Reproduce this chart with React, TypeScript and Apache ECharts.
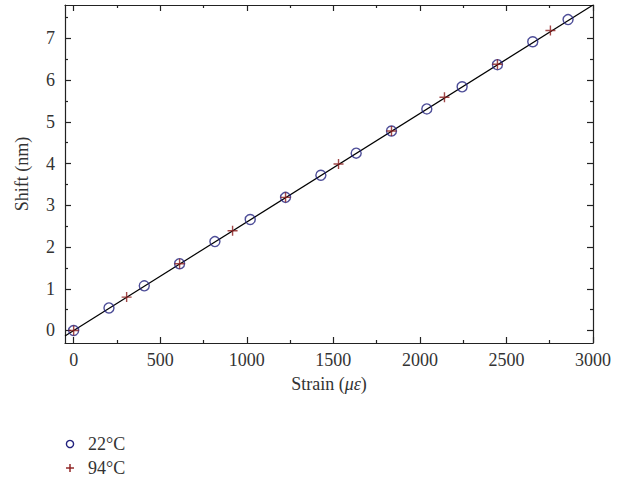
import React, { useEffect, useRef } from "react";
import * as echarts from "echarts";

const strain22 = [0, 204, 408, 612, 816, 1020, 1224, 1428, 1632, 1836, 2040, 2244, 2448, 2652, 2856];
const shift22 = [0.0, 0.54, 1.07, 1.6, 2.13, 2.66, 3.19, 3.72, 4.25, 4.78, 5.31, 5.84, 6.37, 6.92, 7.45];
const strain94 = [0, 306, 612, 918, 1224, 1530, 1836, 2142, 2448, 2754];
const shift94 = [0.0, 0.8, 1.6, 2.39, 3.19, 3.99, 4.78, 5.59, 6.38, 7.19];
const fitX = [-50, 3000];
const fitY = [-0.13, 7.8];
const xMajor = [0, 500, 1000, 1500, 2000, 2500, 3000];
const xMinor = [250, 750, 1250, 1750, 2250, 2750];
const yMajor = [0, 1, 2, 3, 4, 5, 6, 7];
const yMinor = [0.5, 1.5, 2.5, 3.5, 4.5, 5.5, 6.5, 7.5];
const legendNames = ["22°C", "94°C"];

const FONT = "Liberation Serif";
const BLUE = "#22227e";
const RED = "#8b1c1c";
const X_MIN = -50, X_MAX = 3000, Y_MIN = -0.3, Y_MAX = 7.8;

export default function App() {
  const ref = useRef<HTMLDivElement>(null);
  useEffect(() => {
    if (!ref.current) return;
    const chart = echarts.init(ref.current, undefined, { renderer: "svg" });
    const line = { show: true, onZero: false, lineStyle: { color: "#222", width: 1.2 } };
    const noLine = { show: false, onZero: false };
    const label = { fontFamily: FONT, fontSize: 18, color: "#333", formatter: (v: number) => String(v) };
    const mkX = (pos: string, major: boolean, withLabel: boolean, extra: any = {}) => ({
      type: "value",
      min: X_MIN,
      max: X_MAX,
      position: pos,
      axisLine: major ? line : noLine,
      axisTick: {
        show: true,
        inside: true,
        length: major ? 6 : 3,
        customValues: major ? xMajor : xMinor,
        lineStyle: { color: "#222", width: 1.2 },
      },
      splitLine: { show: false },
      axisLabel: withLabel ? { ...label, margin: 8, customValues: xMajor } : { show: false },
      ...extra,
    });
    const mkY = (pos: string, major: boolean, withLabel: boolean, extra: any = {}) => ({
      type: "value",
      min: Y_MIN,
      max: Y_MAX,
      position: pos,
      axisLine: major ? line : noLine,
      axisTick: {
        show: true,
        inside: true,
        length: major ? 6 : 3,
        customValues: major ? yMajor : yMinor,
        lineStyle: { color: "#222", width: 1.2 },
      },
      splitLine: { show: false },
      axisLabel: withLabel ? { ...label, margin: 10, customValues: yMajor } : { show: false },
      ...extra,
    });
    chart.setOption({
      animation: false,
      grid: { left: 65, right: 32, top: 5, bottom: 141 },
      xAxis: [
        mkX("bottom", true, true, {
          name: "Strain ({i|με})",
          nameLocation: "middle",
          nameGap: 32,
          nameTextStyle: {
            fontFamily: FONT,
            fontSize: 18,
            color: "#333",
            rich: { i: { fontFamily: FONT, fontSize: 18, fontStyle: "italic", color: "#333" } },
          },
        }),
        mkX("top", true, false),
        mkX("bottom", false, false),
        mkX("top", false, false),
      ],
      yAxis: [
        mkY("left", true, true, {
          name: "Shift (nm)",
          nameLocation: "middle",
          nameGap: 34,
          nameTextStyle: { fontFamily: FONT, fontSize: 18, color: "#333" },
        }),
        mkY("right", true, false),
        mkY("left", false, false),
        mkY("right", false, false),
      ],
      graphic: [
        { type: "circle", shape: { cx: 70, cy: 444, r: 3.6 }, style: { fill: "none", stroke: BLUE, lineWidth: 1.4 } },
        { type: "line", shape: { x1: 66, y1: 468, x2: 74, y2: 468 }, style: { stroke: RED, lineWidth: 1.4 } },
        { type: "line", shape: { x1: 70, y1: 464, x2: 70, y2: 472 }, style: { stroke: RED, lineWidth: 1.4 } },
        { type: "text", x: 88, y: 444, style: { text: legendNames[0], font: `18px "${FONT}"`, fill: "#333", verticalAlign: "middle" } },
        { type: "text", x: 88, y: 468, style: { text: legendNames[1], font: `18px "${FONT}"`, fill: "#333", verticalAlign: "middle" } },
      ],
      series: [
        {
          name: "fit",
          type: "line",
          data: fitX.map((x, i) => [x, fitY[i]]),
          showSymbol: false,
          lineStyle: { color: "#000", width: 1.2 },
          z: 1,
        },
        {
          name: legendNames[0],
          type: "scatter",
          data: strain22.map((x, i) => [x, shift22[i]]),
          symbol: "circle",
          symbolSize: 10,
          itemStyle: { color: "rgba(0,0,0,0)", borderColor: BLUE, borderWidth: 1.4 },
          z: 3,
        },
        {
          name: legendNames[1],
          type: "scatter",
          data: strain94.map((x, i) => [x, shift94[i]]),
          symbol: "path://M0,5L10,5M5,0L5,10",
          symbolSize: 10,
          itemStyle: { color: "rgba(0,0,0,0)", borderColor: RED, borderWidth: 1.4 },
          z: 4,
        },
      ],
    });
    return () => chart.dispose();
  }, []);
  return <div ref={ref} style={{ width: 625, height: 484, position: "absolute", left: 0, top: 0 }} />;
}
